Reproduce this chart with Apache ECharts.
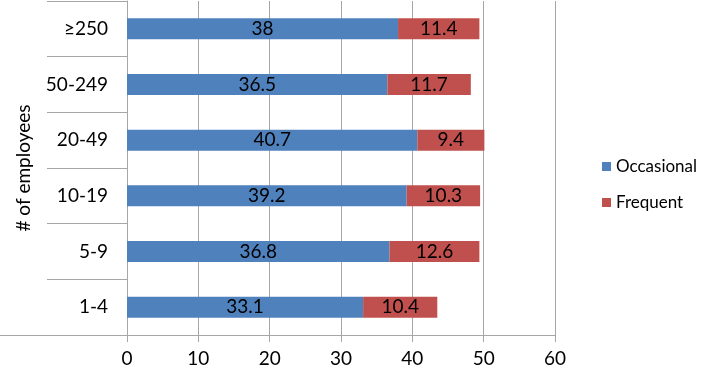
<!DOCTYPE html>
<html>
<head>
<meta charset="utf-8">
<script src="https://cdn.jsdelivr.net/npm/echarts@6/dist/echarts.min.js"></script>
<style>
    html, body { margin: 0; padding: 0; background: #fff; }
    #chart { width: 708px; height: 371px; }
</style>
</head>
<body>
<div id="chart"></div>
<script>
var categories = ['1-4', '5-9', '10-19', '20-49', '50-249', '≥250'];
var occasional = [33.1, 36.8, 39.2, 40.7, 36.5, 38];
var frequent = [10.4, 12.6, 10.3, 9.4, 11.7, 11.4];
var xTicks = { min: 0, max: 60, interval: 10 };

var font = 'Lato, "Open Sans", sans-serif';
var gridColor = '#a6a6a6';

var myChart = echarts.init(document.getElementById('chart'));
var option = {
    animation: false,
    textStyle: { fontFamily: font },
    grid: { left: 127, right: 153, top: 1, bottom: 36 },
    legend: {
        orient: 'vertical',
        left: 597,
        top: 153,
        itemWidth: 9,
        itemHeight: 9,
        itemGap: 19,
        icon: 'rect',
        textStyle: { fontSize: 17, color: '#000', fontFamily: font },
        data: ['Occasional', 'Frequent']
    },
    xAxis: {
        type: 'value',
        min: xTicks.min,
        max: xTicks.max,
        interval: xTicks.interval,
        axisLine: { show: true, lineStyle: { color: gridColor } },
        axisTick: { show: true, length: 7, lineStyle: { color: gridColor } },
        axisLabel: { fontSize: 19, color: '#000', margin: 14 },
        splitLine: { show: true, lineStyle: { color: gridColor, width: 1 } }
    },
    yAxis: {
        type: 'category',
        data: categories,
        name: '# of employees',
        nameLocation: 'middle',
        nameGap: 94,
        nameTextStyle: { fontSize: 19, color: '#000' },
        axisLine: { show: true, lineStyle: { color: gridColor } },
        axisTick: { show: true, length: 80, lineStyle: { color: gridColor } },
        axisLabel: { fontSize: 19, color: '#000', margin: 19 }
    },
    graphic: [{
        type: 'line',
        shape: { x1: 0, y1: 335.5, x2: 127, y2: 335.5 },
        style: { stroke: gridColor, lineWidth: 1 }
    }],
    series: [
        {
            name: 'Occasional',
            type: 'bar',
            stack: 'total',
            barWidth: 21,
            data: occasional,
            itemStyle: { color: '#4f81bd' },
            label: { show: true, position: 'inside', fontSize: 19, color: '#000' }
        },
        {
            name: 'Frequent',
            type: 'bar',
            stack: 'total',
            barWidth: 21,
            data: frequent,
            itemStyle: { color: '#c0504d' },
            label: { show: true, position: 'inside', fontSize: 19, color: '#000' }
        }
    ]
};
myChart.setOption(option);
</script>
</body>
</html>
